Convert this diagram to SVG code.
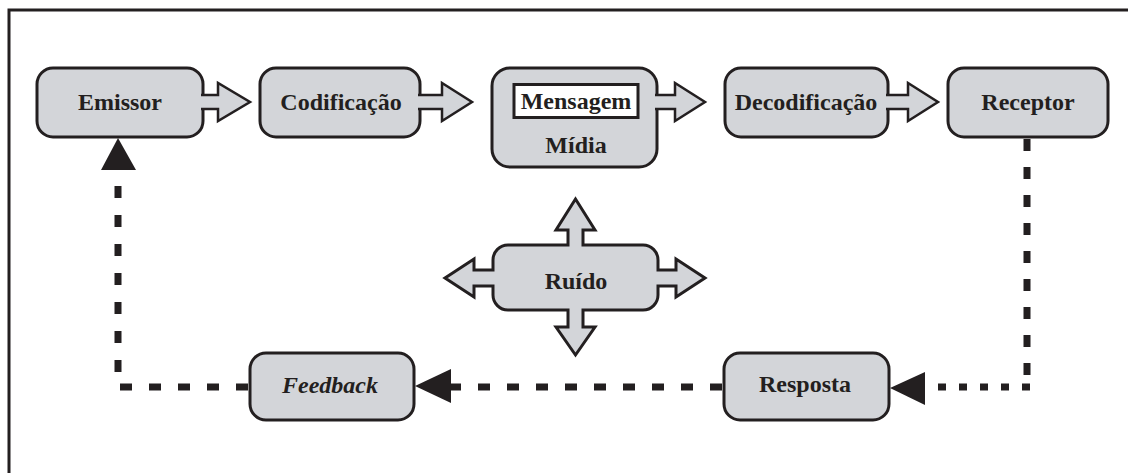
<svg xmlns="http://www.w3.org/2000/svg" width="1128" height="473" viewBox="0 0 1128 473">
  <style>
    .box { fill: #d3d5d9; stroke: #231f20; stroke-width: 3; }
    .arrow { fill: #d3d5d9; stroke: #231f20; stroke-width: 2.5; stroke-linejoin: miter; }
    .label { font-family: "Liberation Serif", "Times New Roman", serif; font-weight: bold; font-size: 24px; fill: #231f20; text-anchor: middle; }
    .ital { font-style: italic; }
    .dash { fill: none; stroke: #231f20; stroke-width: 7; }
    .head { fill: #231f20; }
  </style>

  <rect x="0" y="0" width="1128" height="473" fill="#ffffff"/>
  <!-- outer frame (runs past the right and bottom edges) -->
  <rect x="9" y="10" width="1140" height="480" fill="none" stroke="#231f20" stroke-width="3"/>

  <!-- nodes -->
  <g id="emissor">
    <rect class="box" x="37" y="68" width="166" height="69" rx="16"/>
    <text class="label" x="120" y="110">Emissor</text>
  </g>
  <g id="codificacao">
    <rect class="box" x="260" y="68" width="160" height="69" rx="16"/>
    <text class="label" x="341" y="110">Codificação</text>
  </g>
  <g id="midia">
    <rect class="box" x="492" y="68" width="165" height="99" rx="18"/>
    <rect x="514" y="84.5" width="124" height="33" fill="#ffffff" stroke="#231f20" stroke-width="3"/>
    <text class="label" x="576" y="109">Mensagem</text>
    <text class="label" x="576" y="153">Mídia</text>
  </g>
  <g id="decodificacao">
    <rect class="box" x="725" y="68" width="163" height="69" rx="16"/>
    <text class="label" x="806" y="110">Decodificação</text>
  </g>
  <g id="receptor">
    <rect class="box" x="948" y="68" width="160" height="69" rx="16"/>
    <text class="label" x="1028" y="110">Receptor</text>
  </g>
  <g id="ruido">
    <path class="box" d="M508,245 H568 V230 H556 L575.5,199 L595,230 H583 V245 H643 A15,15 0 0 1 658,260 V270 H676 V259 L705,278 L676,297 V286 H658 V295 A15,15 0 0 1 643,310 H583 V327 H595 L575.5,355 L556,327 H568 V310 H508 A15,15 0 0 1 493,295 V286 H474 V297 L445,278 L474,259 V270 H493 V260 A15,15 0 0 1 508,245 Z"/>
    <text class="label" x="576" y="289">Ruído</text>
  </g>
  <g id="feedback">
    <rect class="box" x="250" y="353" width="164" height="67" rx="16"/>
    <text class="label ital" x="330" y="393">Feedback</text>
  </g>
  <g id="resposta">
    <rect class="box" x="724" y="353" width="165" height="67" rx="16"/>
    <text class="label" x="805" y="392">Resposta</text>
  </g>

  <!-- connectors -->
  <g id="connectors">
    <!-- hollow block arrows along the top row -->
    <path class="arrow" d="M201,95 H218 V83 L250,102 L218,121 V109 H201"/>
    <path class="arrow" d="M418,95 H442 V83 L472,102 L442,121 V109 H418"/>
    <path class="arrow" d="M655,95 H675 V83 L705,102 L675,121 V109 H655"/>
    <path class="arrow" d="M886,95 H908 V83 L938,102 L908,121 V109 H886"/>

    <!-- dashed return path -->
    <path class="dash" d="M1027,139 V384" stroke-dasharray="12 16"/>
    <path class="dash" d="M1030,387 H922" stroke-dasharray="8 13"/>
    <polygon class="head" points="890,388 925,372 925,405"/>
    <path class="dash" d="M722,387 H448" stroke-dasharray="12 17"/>
    <polygon class="head" points="415,386 451,369 451,403"/>
    <path class="dash" d="M248,387 H118 V166" stroke-dasharray="12 17"/>
    <polygon class="head" points="118,138 101,170 136,170"/>
  </g>
</svg>
